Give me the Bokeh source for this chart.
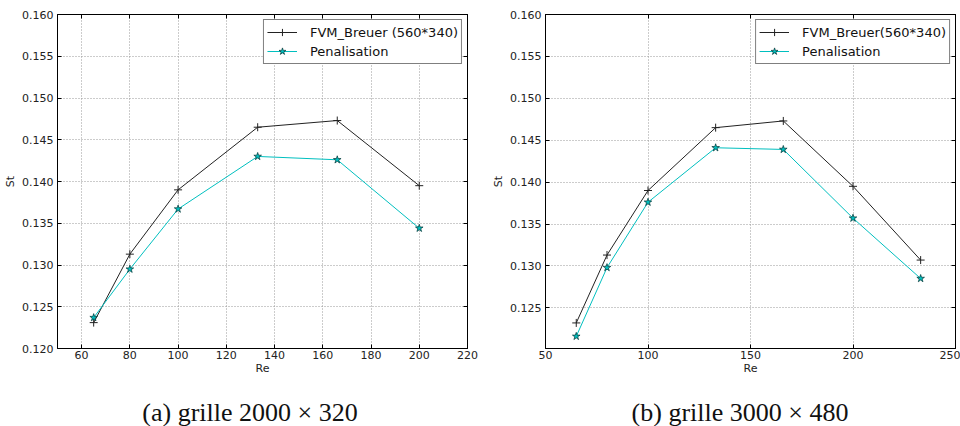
from bokeh.plotting import figure
from bokeh.layouts import row, column
from bokeh.models import (Range1d, FixedTicker, NumeralTickFormatter, Div, Legend,
                          LegendItem, LinearAxis, CustomJSTickFormatter)
from bokeh.embed import file_html
from bokeh.resources import INLINE

# ---- data ----
re_a = [65, 80, 100, 133, 166, 200]
fvm_a = [0.1231, 0.1313, 0.1390, 0.1465, 0.1473, 0.1395]
pen_a = [0.1237, 0.1295, 0.1367, 0.1430, 0.1426, 0.1344]

re_b = [65, 80, 100, 133, 166, 200, 233]
fvm_b = [0.1232, 0.1313, 0.1390, 0.1465, 0.1473, 0.1395, 0.1307]
pen_b = [0.1216, 0.1298, 0.1376, 0.1441, 0.1439, 0.1357, 0.1285]

xticks_a = [60, 80, 100, 120, 140, 160, 180, 200, 220]
xticks_b = [50, 100, 150, 200, 250]
yticks = [0.120, 0.125, 0.130, 0.135, 0.140, 0.145, 0.150, 0.155, 0.160]

label_fvm_a = "FVM_Breuer (560*340)"
label_fvm_b = "FVM_Breuer(560*340)"
label_pen = "Penalisation"
caption_a = "(a) grille 2000 \u00d7 320"
caption_b = "(b) grille 3000 \u00d7 480"

FONT = "DejaVu Sans"


def style_axis(ax):
    ax.major_tick_in = 4
    ax.major_tick_out = 0
    ax.minor_tick_line_color = None
    ax.axis_line_color = "black"
    ax.major_label_text_font = FONT
    ax.major_label_text_font_size = "11px"
    ax.major_label_text_color = "#222222"
    ax.axis_label_text_font = FONT
    ax.axis_label_text_font_size = "11px"
    ax.axis_label_text_font_style = "normal"
    ax.axis_label_text_color = "#222222"


def make_panel(re, fvm, pen, xr, yr, xticks, lab_fvm, bl, br):
    p = figure(width=480, height=392, output_backend="svg", toolbar_location=None,
               x_range=Range1d(*xr), y_range=Range1d(*yr),
               min_border_left=bl, min_border_right=br, min_border_top=14,
               min_border_bottom=44)
    p.outline_line_color = "black"
    p.outline_line_width = 1
    style_axis(p.xaxis[0])
    style_axis(p.yaxis[0])
    p.xaxis[0].ticker = FixedTicker(ticks=xticks)
    p.yaxis[0].ticker = FixedTicker(ticks=yticks)
    p.yaxis[0].formatter = NumeralTickFormatter(format="0.000")
    p.xaxis[0].axis_label = "Re"
    p.yaxis[0].axis_label = "St"
    p.xaxis[0].major_label_standoff = 2
    p.xaxis[0].axis_label_standoff = 0
    p.yaxis[0].major_label_standoff = 4
    p.yaxis[0].axis_label_standoff = 2

    # inner ticks on the top and right edges (no labels)
    top = LinearAxis(ticker=FixedTicker(ticks=xticks),
                     formatter=CustomJSTickFormatter(code="return ''"))
    right = LinearAxis(ticker=FixedTicker(ticks=yticks),
                       formatter=CustomJSTickFormatter(code="return ''"))
    for ax in (top, right):
        style_axis(ax)
        ax.major_label_text_font_size = "1px"
        ax.major_label_standoff = 0
    p.add_layout(top, "above")
    p.add_layout(right, "right")

    p.xgrid.grid_line_color = "#999999"
    p.ygrid.grid_line_color = "#999999"
    p.xgrid.grid_line_dash = "1 2"
    p.ygrid.grid_line_dash = "1 2"
    p.xgrid.ticker = FixedTicker(ticks=xticks)
    p.ygrid.ticker = FixedTicker(ticks=yticks)

    l1 = p.line(re, fvm, line_color="#222222", line_width=1)
    m1 = p.scatter(re, fvm, marker="cross", size=8, line_color="#222222", line_width=1)
    l2 = p.line(re, pen, line_color="#00bfbf", line_width=1)
    m2 = p.scatter(re, pen, marker="star", size=8, fill_color="#00bfbf",
                   line_color="#003333", line_width=0.7)

    leg = Legend(items=[LegendItem(label=lab_fvm, renderers=[l1, m1]),
                        LegendItem(label=label_pen, renderers=[l2, m2])],
                 location="top_right")
    leg.label_text_font = FONT
    leg.label_text_font_size = "13px"
    leg.label_text_color = "#111111"
    leg.border_line_color = "black"
    leg.border_line_width = 1
    leg.background_fill_alpha = 1
    leg.margin = 5
    leg.padding = 3
    leg.spacing = 1
    leg.glyph_width = 30
    leg.glyph_height = 18
    leg.label_height = 18
    leg.label_standoff = 13
    p.add_layout(leg)
    return p


def caption_div(text, shift):
    html = ('<div style="display:block; width:480px; box-sizing:border-box; '
            'font-family:\'Liberation Serif\'; font-size:26px; '
            'line-height:34px; text-align:center; padding-left:%dpx; '
            'position:relative; top:4px; color:#111111; white-space:nowrap;">%s</div>'
            % (shift, text))
    return Div(text=html, width=480, height=34, margin=0)


pa = make_panel(re_a, fvm_a, pen_a, (50, 220), (0.120, 0.160), xticks_a,
                label_fvm_a, 57, 13)
pb = make_panel(re_b, fvm_b, pen_b, (50, 250), (0.12015, 0.160), xticks_b,
                label_fvm_b, 65, 5)

layout = row(column(pa, caption_div(caption_a, 20), spacing=0),
             column(pb, caption_div(caption_b, 40), spacing=0), spacing=0)
html = file_html(layout, INLINE)
open("out.html", "w").write(html)
